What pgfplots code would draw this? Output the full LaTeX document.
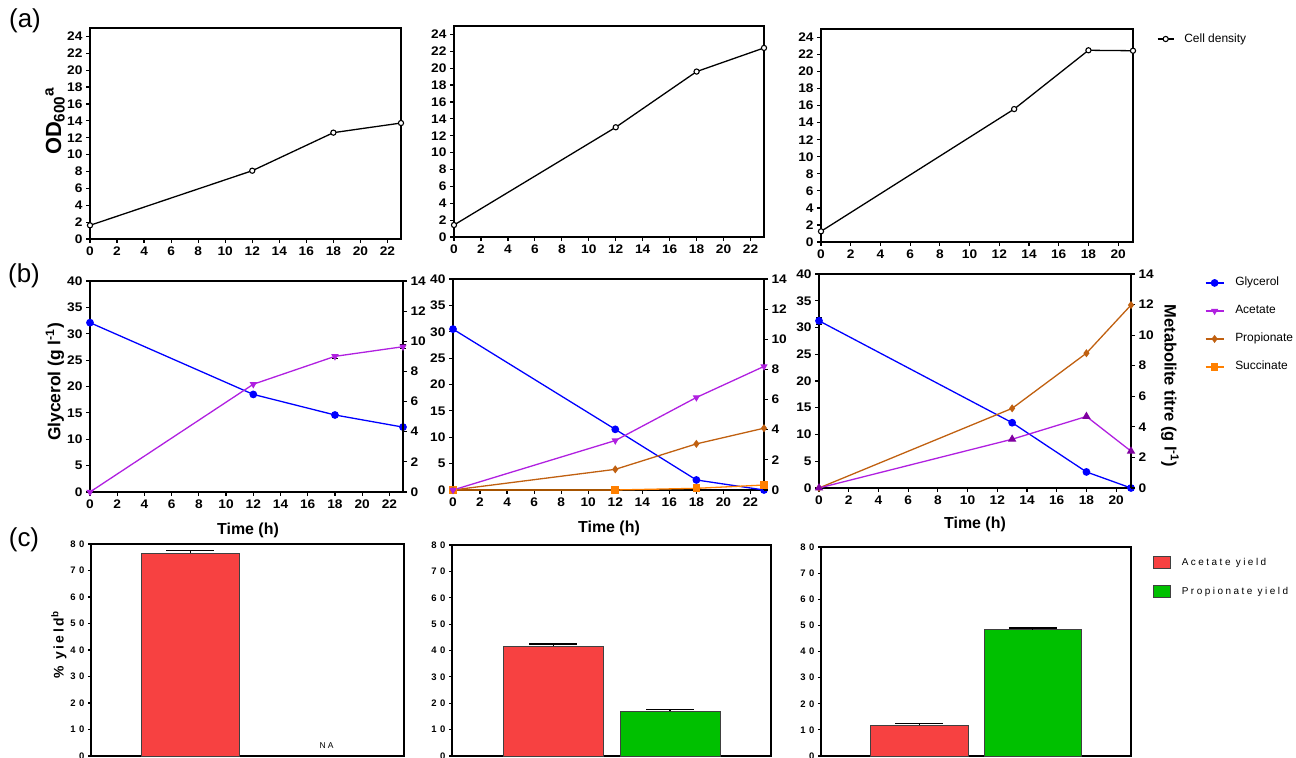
\documentclass[border=0pt]{standalone}
\usepackage{pgfplots}
\pgfplotsset{compat=1.18}
\usepackage{fontspec}
\setmainfont{Liberation Sans}
\newfontfamily\spaced[LetterSpace=25]{Liberation Sans}
\newfontfamily\yspaced[LetterSpace=18]{Liberation Sans}
\newfontfamily\cticks[LetterSpace=38]{Liberation Sans}
\newfontfamily\tickfont[FakeStretch=1.1]{Liberation Sans}
\definecolor{glyc}{RGB}{0,0,255}
\definecolor{acet}{RGB}{176,32,224}
\definecolor{acetdark}{RGB}{128,0,160}
\definecolor{prop}{RGB}{192,96,16}
\definecolor{succ}{RGB}{255,128,0}
\definecolor{barred}{RGB}{247,65,65}
\definecolor{bargreen}{RGB}{0,192,0}
\pgfplotsset{
  panel/.style={scale only axis, anchor=south west, clip=false,
    axis line style={line width=1.6bp},
    tick style={black, line width=1.2bp},
    tick align=outside, major tick length=4bp,
    xtick pos=left, ytick pos=left,
    tick label style={font=\tickfont\bfseries\fontsize{12.5}{13}\selectfont},
    /pgf/number format/assume math mode=true,
    legend cell align=left},
  odstyle/.style={black, line width=1.3bp, mark=*, mark size=2.6bp,
    mark options={fill=white, draw=black, line width=1.1bp, solid}},
  glycstyle/.style={glyc, line width=1.3bp, mark=*, mark size=3.2bp, mark options={solid}},
  acetstyle/.style={acet, line width=1.3bp, mark=triangle*, mark size=3bp, mark options={rotate=180, solid}},
  propstyle/.style={prop, line width=1.3bp, mark=diamond*, mark size=3bp, mark options={solid}},
  succstyle/.style={succ, line width=1.3bp, mark=square*, mark size=3.2bp, mark options={solid}},
  errs/.style={error bars/y dir=both, error bars/y explicit,
    error bars/error bar style={black, line width=1bp},
    error bars/error mark options={rotate=90, black, line width=1bp, mark size=3bp}},
  barpanel/.style={panel, ymin=0, ymax=80, ytick={0,10,...,80}, xtick=\empty,
    xmin=0.133, xmax=2.865, major tick length=3bp,
    tick label style={font=\cticks\bfseries\fontsize{9.5}{10}\selectfont}},
  barstyle/.style={ybar, bar width=0.857, bar shift=0pt, draw=black!75, line width=0.8bp,
    error bars/y dir=plus, error bars/y explicit,
    error bars/error bar style={black, line width=1.2bp},
    error bars/error mark options={rotate=90, black, line width=1.5bp, mark size=24bp}},
}
\begin{document}
\begin{tikzpicture}
\useasboundingbox (0,0) rectangle (1296bp,758bp);

% ---------- Row (a)
\begin{axis}[panel, at={(90bp,519bp)}, width=311bp, height=211bp,
  xmin=0, xmax=23, ymin=0, ymax=25, xtick={0,2,...,22}, ytick={0,2,...,24}]
\addplot[odstyle] coordinates {(0,1.62) (12,8.09) (18,12.6) (23,13.74)};
\end{axis}
\begin{axis}[panel, at={(454bp,521bp)}, width=310bp, height=211bp,
  xmin=0, xmax=23, ymin=0, ymax=25, xtick={0,2,...,22}, ytick={0,2,...,24}]
\addplot[odstyle] coordinates {(0,1.42) (12,13.0) (18,19.6) (23,22.4)};
\end{axis}
\begin{axis}[panel, at={(821bp,516bp)}, width=312bp, height=213bp,
  xmin=0, xmax=21, ymin=0, ymax=25, xtick={0,2,...,20}, ytick={0,2,...,24},
  legend style={draw=none, fill=none, inner sep=0pt, outer sep=0pt,
    at={(1.077,0.953)}, anchor=west, column sep=10bp,
    font=\fontsize{12}{12}\selectfont, nodes={inner sep=0pt}},
  legend image code/.code={\draw[mark repeat=2, mark phase=2, #1] plot coordinates {(0bp,0bp) (8bp,0bp) (16bp,0bp)};}]
\addplot[odstyle] coordinates {(0,1.25) (13,15.6) (18,22.5) (21,22.45)};
\addlegendentry{Cell density}
\end{axis}

% ---------- Row (b)
\begin{axis}[panel, at={(90bp,266bp)}, width=313bp, height=211bp,
  xmin=0, xmax=23, ymin=0, ymax=40, xtick={0,2,...,22}, ytick={0,5,...,40}]
\addplot[glycstyle] coordinates {(0,32.1) (12,18.5) (18,14.6) (23,12.3)};
\end{axis}
\begin{axis}[panel, at={(90bp,266bp)}, width=313bp, height=211bp,
  xmin=0, xmax=23, ymin=0, ymax=14, ytick={0,2,...,14},
  axis x line=none, axis y line*=right, ytick pos=right]
\addplot[acetstyle, errs] coordinates {(0,0) (12,7.15) (18,9.0) +- (0,0.15) (23,9.64) +- (0,0.12)};
\end{axis}

\begin{axis}[panel, at={(453bp,268bp)}, width=311bp, height=211bp,
  xmin=0, xmax=23, ymin=0, ymax=40, xtick={0,2,...,22}, ytick={0,5,...,40}]
\addplot[glycstyle] coordinates {(0,30.5) (12,11.5) (18,1.9) (23,0)};
\end{axis}
\begin{axis}[panel, at={(453bp,268bp)}, width=311bp, height=211bp,
  xmin=0, xmax=23, ymin=0, ymax=14, ytick={0,2,...,14},
  axis x line=none, axis y line*=right, ytick pos=right]
\addplot[succstyle] coordinates {(0,0) (12,0) (18,0.11) (23,0.33)};
\addplot[propstyle] coordinates {(0,0) (12,1.37) (18,3.06) (23,4.1)};
\addplot[acetstyle] coordinates {(0,0) (12,3.28) (18,6.14) (23,8.2)};
\end{axis}

\begin{axis}[panel, at={(819bp,270bp)}, width=312bp, height=214bp,
  xmin=0, xmax=21, ymin=0, ymax=40, xtick={0,2,...,20}, ytick={0,5,...,40}]
\addplot[glycstyle, errs] coordinates {(0,31.25) +- (0,0.7) (13,12.2) (18,3.0) (21,0)};
\end{axis}
\begin{axis}[panel, at={(819bp,270bp)}, width=312bp, height=214bp,
  xmin=0, xmax=21, ymin=0, ymax=14, ytick={0,2,...,14},
  axis x line=none, axis y line*=right, ytick pos=right,
  legend style={draw=none, fill=none, inner sep=0pt, outer sep=0pt,
    at={(1.237,0.762)}, anchor=west, column sep=11bp, row sep=16bp,
    font=\fontsize{12}{12}\selectfont, nodes={inner sep=0pt, text height=9bp, text depth=3bp}},
  legend image code/.code={\draw[mark repeat=2, mark phase=2, #1] plot coordinates {(0bp,0bp) (9bp,0bp) (18bp,0bp)};}]
\addplot[propstyle, forget plot] coordinates {(0,0) (13,5.21) (18,8.82) (21,11.97)};
\addplot[acetstyle, mark options={fill=acetdark, draw=acetdark}, mark size=3.6bp, forget plot] coordinates {(0,0) (13,3.19) (18,4.68) (21,2.41)};
\addlegendimage{glycstyle}
\addlegendentry{Glycerol}
\addlegendimage{acetstyle}
\addlegendentry{Acetate}
\addlegendimage{propstyle}
\addlegendentry{Propionate}
\addlegendimage{succstyle}
\addlegendentry{Succinate}
\end{axis}

% ---------- Row (c)
\begin{axis}[barpanel, at={(91bp,2bp)}, width=313bp, height=212bp]
\addplot[barstyle, fill=barred] coordinates {(1,76.5) +- (0,1.0)};
\node[font=\spaced\fontsize{8.5}{8.5}\selectfont] at (axis cs:2.19,3.8) {NA};
\end{axis}
\begin{axis}[barpanel, at={(452bp,2bp)}, width=319bp, height=211bp]
\addplot[barstyle, fill=barred] coordinates {(1,41.7) +- (0,0.8)};
\addplot[barstyle, fill=bargreen] coordinates {(2,17.0) +- (0,0.6)};
\end{axis}
\begin{axis}[barpanel, at={(821bp,2bp)}, width=310bp, height=209bp,
  legend style={draw=none, fill=none, inner sep=0pt, outer sep=0pt,
    at={(1.071,0.856)}, anchor=west, column sep=11bp, row sep=16bp,
    font=\spaced\fontsize{10}{10}\selectfont, nodes={inner sep=0pt, text height=9bp, text depth=3bp}}]
\addplot[barstyle, fill=barred, forget plot] coordinates {(1,11.7) +- (0,0.7)};
\addplot[barstyle, fill=bargreen, forget plot] coordinates {(2,48.4) +- (0,0.6)};
\addlegendimage{legend image code/.code={\draw[fill=barred, draw=black!75, line width=0.8bp] (0bp,-6bp) rectangle (17bp,6bp);}}
\addlegendentry{Acetate yield}
\addlegendimage{legend image code/.code={\draw[fill=bargreen, draw=black!75, line width=0.8bp] (0bp,-6bp) rectangle (17bp,6bp);}}
\addlegendentry{Propionate yield}
\end{axis}

% ---------- labels
\node[font=\fontsize{26}{26}\selectfont] at (25bp,737bp) {(a)};
\node[font=\fontsize{26}{26}\selectfont] at (24bp,482bp) {(b)};
\node[font=\fontsize{26}{26}\selectfont] at (24bp,218bp) {(c)};
\node[font=\bfseries\fontsize{22}{22}\selectfont, rotate=90] at (55bp,637bp) {OD\textsubscript{600}\textsuperscript{a}};
\node[font=\bfseries\fontsize{17.5}{17.5}\selectfont, rotate=90] at (55bp,376bp) {Glycerol (g l\textsuperscript{-1})};
\node[font=\bfseries\fontsize{16.5}{16.5}\selectfont, rotate=-90] at (1170bp,372bp) {Metabolite titre (g l\textsuperscript{-1})};
\node[font=\yspaced\bfseries\fontsize{14}{14}\selectfont, rotate=90] at (59bp,113bp) {\% yield\textsuperscript{b}};
\node[font=\bfseries\fontsize{16}{16}\selectfont] at (248bp,228bp) {Time (h)};
\node[font=\bfseries\fontsize{16}{16}\selectfont] at (609bp,230bp) {Time (h)};
\node[font=\bfseries\fontsize{16}{16}\selectfont] at (975bp,234bp) {Time (h)};
\end{tikzpicture}
\end{document}
